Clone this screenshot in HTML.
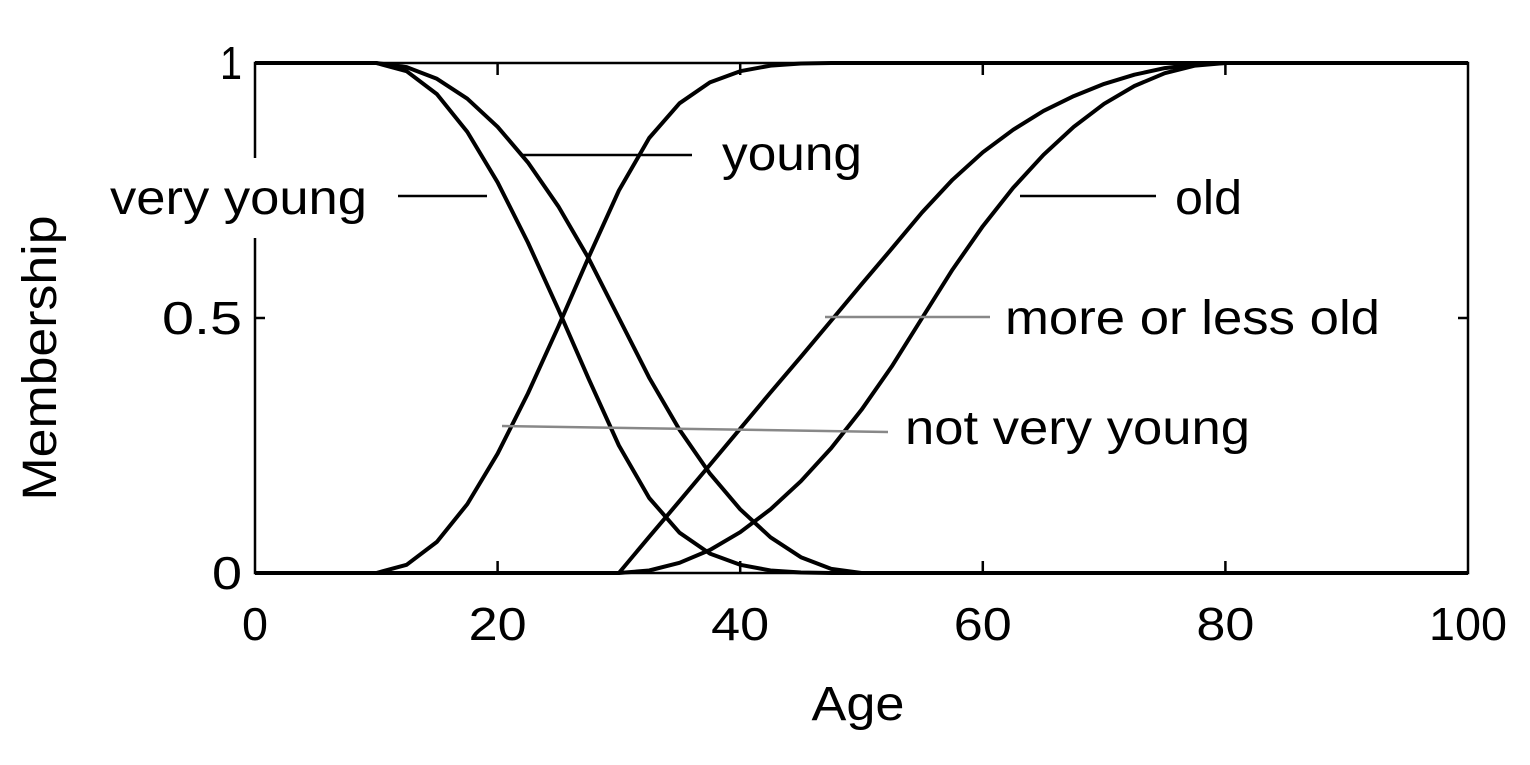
<!DOCTYPE html>
<html><head><meta charset="utf-8">
<style>
html,body{margin:0;padding:0;background:#fff;}
svg{display:block;font-family:"Liberation Sans",Arial,sans-serif;}
</style></head>
<body>
<svg id="chart" width="1530" height="765" viewBox="0 0 1530 765">
  <g id="frame"></g>
  <g id="curves"></g>
  <g id="labels"></g>
</svg>
<script>
const ages = [0,2.5,5,7.5,10,12.5,15,17.5,20,22.5,25,27.5,30,32.5,35,37.5,40,42.5,45,47.5,50,52.5,55,57.5,60,62.5,65,67.5,70,72.5,75,77.5,80,82.5,85,87.5,90,92.5,95,97.5,100];
const young = [1,1,1,1,1,0.992,0.969,0.930,0.875,0.805,0.719,0.617,0.5,0.383,0.281,0.195,0.125,0.070,0.031,0.008,0,0,0,0,0,0,0,0,0,0,0,0,0,0,0,0,0,0,0,0,0];
const veryYoung = [1,1,1,1,1,0.984,0.939,0.865,0.766,0.648,0.517,0.381,0.25,0.147,0.079,0.038,0.016,0.005,0.001,0,0,0,0,0,0,0,0,0,0,0,0,0,0,0,0,0,0,0,0,0,0];
const notVeryYoung = [0,0,0,0,0,0.016,0.061,0.135,0.234,0.352,0.483,0.619,0.75,0.853,0.921,0.962,0.984,0.995,0.999,1,1,1,1,1,1,1,1,1,1,1,1,1,1,1,1,1,1,1,1,1,1];
const old = [0,0,0,0,0,0,0,0,0,0,0,0,0,0.005,0.02,0.045,0.08,0.125,0.18,0.245,0.32,0.405,0.5,0.595,0.68,0.755,0.82,0.875,0.92,0.955,0.98,0.995,1,1,1,1,1,1,1,1,1];
const moreOrLessOld = [0,0,0,0,0,0,0,0,0,0,0,0,0,0.071,0.141,0.212,0.283,0.354,0.424,0.495,0.566,0.636,0.707,0.771,0.825,0.869,0.906,0.935,0.959,0.977,0.990,0.997,1,1,1,1,1,1,1,1,1];
const xTicks = [0,20,40,60,80,100];
const xTickLabels = ["0","20","40","60","80","100"];
const yTicks = [0,0.5,1];
const yTickLabels = ["0","0.5","1"];

const NS = "http://www.w3.org/2000/svg";
const X0=255, X1=1468, Y0=573, Y1=63;
function xs(v){return X0+(X1-X0)*v/100;}
function ys(v){return Y0-(Y0-Y1)*v;}
function mk(tag, attrs, parent, text){
  const e=document.createElementNS(NS,tag);
  for(const k in attrs) e.setAttribute(k,attrs[k]);
  if(text!==undefined) e.textContent=text;
  parent.appendChild(e); return e;
}
const frame=document.getElementById('frame');
const curves=document.getElementById('curves');
const labels=document.getElementById('labels');

const box=mk('rect',{x:X0,y:Y1,width:X1-X0,height:Y0-Y1,fill:'none',stroke:'#000','stroke-width':2.5},frame);



const xLabW=[26,58,58,58,58,78];
xTicks.forEach((t,i)=>{
  if(t>0&&t<100){
    const a=mk('line',{x1:xs(t),x2:xs(t),y1:Y0,y2:Y0-12,stroke:'#000','stroke-width':2.5},frame);
    
    
    const b=mk('line',{x1:xs(t),x2:xs(t),y1:Y1,y2:Y1+12,stroke:'#000','stroke-width':2.5},frame);
    
    
  }
  const l=mk('text',{x:xs(t),y:640,'font-size':46,'text-anchor':'middle',fill:'#000',textLength:xLabW[i],lengthAdjust:'spacingAndGlyphs'},labels,xTickLabels[i]);
  
  
});
const yLabW=[30,80,22];
yTicks.forEach((t,i)=>{
  if(t>0&&t<1){
    const a=mk('line',{x1:X0,x2:X0+10,y1:ys(t),y2:ys(t),stroke:'#000','stroke-width':2.5},frame);
    
    
    const b=mk('line',{x1:X1,x2:X1-10,y1:ys(t),y2:ys(t),stroke:'#000','stroke-width':2.5},frame);
    
    
  }
  const l=mk('text',{x:242,y:ys(t)+16,'font-size':46,'text-anchor':'end',fill:'#000',textLength:yLabW[i],lengthAdjust:'spacingAndGlyphs'},labels,yTickLabels[i]);
  
  
});

const series=[['young-curve',young],['very-young-curve',veryYoung],['not-very-young-curve',notVeryYoung],['old-curve',old],['more-or-less-old-curve',moreOrLessOld]];
series.forEach(s=>{
  const d=s[1].map((v,i)=>(i?'L':'M')+xs(ages[i]).toFixed(1)+','+ys(v).toFixed(1)).join(' ');
  const p=mk('path',{d:d,fill:'none',stroke:'#000','stroke-width':4,'stroke-linejoin':'round'},curves);
  
  
});

const gap=mk('rect',{x:100,y:158,width:272,height:80,fill:'#fff'},labels);



function leader(name,x1,y1,x2,y2,col){
  const l=mk('line',{x1:x1,y1:y1,x2:x2,y2:y2,stroke:col,'stroke-width':2.5},labels);
  
  
}
function lab(name,x,y,txt,w){
  const t=mk('text',{x:x,y:y,'font-size':48,fill:'#000',textLength:w,lengthAdjust:'spacingAndGlyphs'},labels,txt);
  
  
}
leader('young-leader',520,155,692,155,'#000');
lab('young-label',722,170,'young',140);
leader('very-young-leader',398,196,487,196,'#000');
lab('very-young-label',110,214,'very young',257);
leader('old-leader',1020,196,1156,196,'#000');
lab('old-label',1175,214,'old',67);
leader('more-or-less-old-leader',825,317,990,317,'#888');
lab('more-or-less-old-label',1005,334,'more or less old',375);
leader('not-very-young-leader',502,426,888,432,'#888');
lab('not-very-young-label',905,444,'not very young',345);

const xt=mk('text',{x:858,y:720,'font-size':48,'text-anchor':'middle',fill:'#000',textLength:93,lengthAdjust:'spacingAndGlyphs'},labels,'Age');


const yt=mk('text',{x:0,y:0,'font-size':48,'text-anchor':'middle',fill:'#000',transform:'translate(56,358) rotate(-90)',textLength:285,lengthAdjust:'spacingAndGlyphs'},labels,'Membership');


</script>
</body></html>
